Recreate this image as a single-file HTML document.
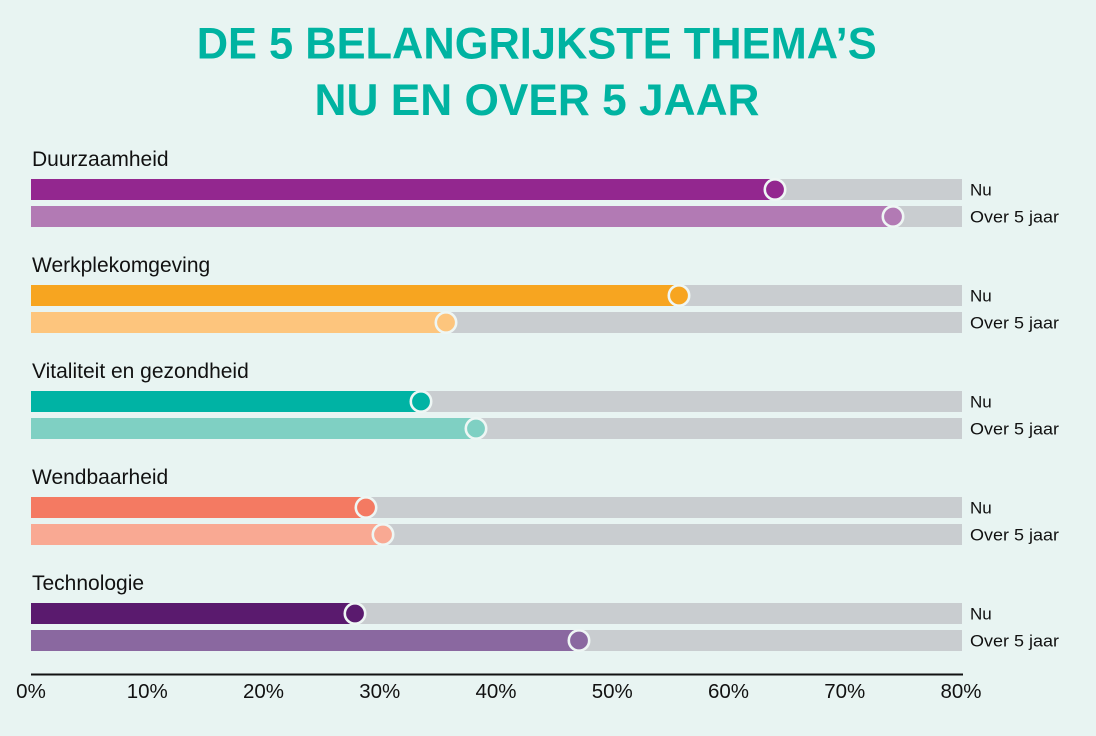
<!DOCTYPE html>
<html><head><meta charset="utf-8"><style>
html,body{margin:0;padding:0;background:#e8f4f2;}
svg{display:block;}
</style></head><body>
<svg width="1096" height="736" viewBox="0 0 1096 736" xmlns="http://www.w3.org/2000/svg">
<rect width="1096" height="736" fill="#e8f4f2"/>
<g font-family="Liberation Sans, Arial, sans-serif" font-weight="bold" fill="#00b3a1" font-size="44.5" text-anchor="middle">
<text x="536.7" y="58.5" textLength="680" lengthAdjust="spacingAndGlyphs">DE 5 BELANGRIJKSTE THEMA’S</text>
<text x="537" y="115" textLength="445" lengthAdjust="spacingAndGlyphs">NU EN OVER 5 JAAR</text>
</g>
<g font-family="Liberation Sans, Arial, sans-serif" fill="#111">
<!-- group 1 -->
<text x="32" y="166" font-size="21">Duurzaamheid</text>
<rect x="31" y="179" width="931" height="21" fill="#c9cdd0"/>
<rect x="31" y="179" width="744" height="21" fill="#93278f"/>
<circle cx="775" cy="189.5" r="10.2" fill="#93278f" stroke="#eef6f4" stroke-width="2.6"/>
<rect x="31" y="206" width="931" height="21" fill="#c9cdd0"/>
<rect x="31" y="206" width="862" height="21" fill="#b27ab4"/>
<circle cx="893" cy="216.5" r="10.2" fill="#b27ab4" stroke="#eef6f4" stroke-width="2.6"/>
<text x="970" y="195.5" font-size="17">Nu</text>
<text x="970" y="222.5" font-size="17" textLength="89" lengthAdjust="spacingAndGlyphs">Over 5 jaar</text>
<!-- group 2 -->
<text x="32" y="272" font-size="21">Werkplekomgeving</text>
<rect x="31" y="285" width="931" height="21" fill="#c9cdd0"/>
<rect x="31" y="285" width="648" height="21" fill="#f7a520"/>
<circle cx="679" cy="295.5" r="10.2" fill="#f7a520" stroke="#eef6f4" stroke-width="2.6"/>
<rect x="31" y="312" width="931" height="21" fill="#c9cdd0"/>
<rect x="31" y="312" width="415" height="21" fill="#fdc57d"/>
<circle cx="446" cy="322.5" r="10.2" fill="#fdc57d" stroke="#eef6f4" stroke-width="2.6"/>
<text x="970" y="301.5" font-size="17">Nu</text>
<text x="970" y="328.5" font-size="17" textLength="89" lengthAdjust="spacingAndGlyphs">Over 5 jaar</text>
<!-- group 3 -->
<text x="32" y="378" font-size="21">Vitaliteit en gezondheid</text>
<rect x="31" y="391" width="931" height="21" fill="#c9cdd0"/>
<rect x="31" y="391" width="390" height="21" fill="#00b3a4"/>
<circle cx="421" cy="401.5" r="10.2" fill="#00b3a4" stroke="#eef6f4" stroke-width="2.6"/>
<rect x="31" y="418" width="931" height="21" fill="#c9cdd0"/>
<rect x="31" y="418" width="445" height="21" fill="#7fd0c3"/>
<circle cx="476" cy="428.5" r="10.2" fill="#7fd0c3" stroke="#eef6f4" stroke-width="2.6"/>
<text x="970" y="407.5" font-size="17">Nu</text>
<text x="970" y="434.5" font-size="17" textLength="89" lengthAdjust="spacingAndGlyphs">Over 5 jaar</text>
<!-- group 4 -->
<text x="32" y="484" font-size="21">Wendbaarheid</text>
<rect x="31" y="497" width="931" height="21" fill="#c9cdd0"/>
<rect x="31" y="497" width="335" height="21" fill="#f47a62"/>
<circle cx="366" cy="507.5" r="10.2" fill="#f47a62" stroke="#eef6f4" stroke-width="2.6"/>
<rect x="31" y="524" width="931" height="21" fill="#c9cdd0"/>
<rect x="31" y="524" width="352" height="21" fill="#f9a993"/>
<circle cx="383" cy="534.5" r="10.2" fill="#f9a993" stroke="#eef6f4" stroke-width="2.6"/>
<text x="970" y="513.5" font-size="17">Nu</text>
<text x="970" y="540.5" font-size="17" textLength="89" lengthAdjust="spacingAndGlyphs">Over 5 jaar</text>
<!-- group 5 -->
<text x="32" y="590" font-size="21">Technologie</text>
<rect x="31" y="603" width="931" height="21" fill="#c9cdd0"/>
<rect x="31" y="603" width="324" height="21" fill="#5a1a6e"/>
<circle cx="355" cy="613.5" r="10.2" fill="#5a1a6e" stroke="#eef6f4" stroke-width="2.6"/>
<rect x="31" y="630" width="931" height="21" fill="#c9cdd0"/>
<rect x="31" y="630" width="548" height="21" fill="#8a68a0"/>
<circle cx="579" cy="640.5" r="10.2" fill="#8a68a0" stroke="#eef6f4" stroke-width="2.6"/>
<text x="970" y="619.5" font-size="17">Nu</text>
<text x="970" y="646.5" font-size="17" textLength="89" lengthAdjust="spacingAndGlyphs">Over 5 jaar</text>
<!-- axis -->
<rect x="31" y="673.5" width="932" height="2" fill="#111"/>
<g font-size="20.5" text-anchor="middle">
<text x="31" y="698">0%</text>
<text x="147.25" y="698">10%</text>
<text x="263.5" y="698">20%</text>
<text x="379.75" y="698">30%</text>
<text x="496" y="698">40%</text>
<text x="612.25" y="698">50%</text>
<text x="728.5" y="698">60%</text>
<text x="844.75" y="698">70%</text>
<text x="961" y="698">80%</text>
</g>
</g>
</svg>
</body></html>
